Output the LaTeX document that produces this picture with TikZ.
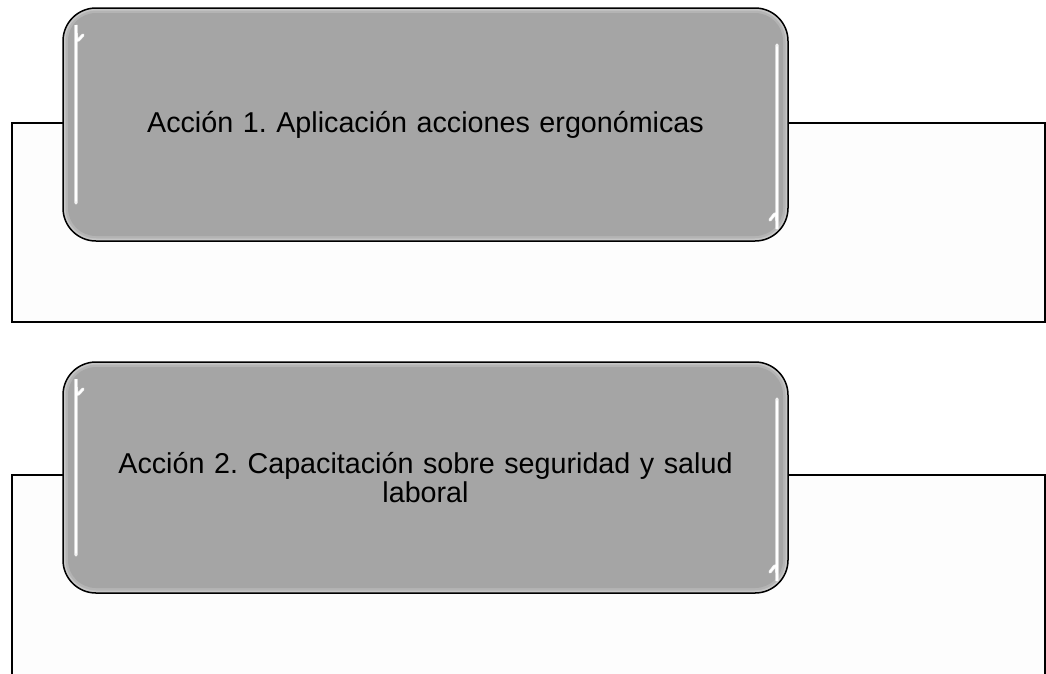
\documentclass[tikz,border=0pt]{standalone}
\usepackage{fontspec}
\setmainfont{Liberation Sans}
\frenchspacing
\definecolor{boxwhite}{HTML}{FDFDFD}
\definecolor{glossrim}{HTML}{C6C6C6}
\definecolor{glossmid}{HTML}{B4B4B4}
\definecolor{glossgray}{HTML}{A5A5A5}
\begin{document}
\begin{tikzpicture}[x=1pt,y=-1pt,
  backbox/.style={draw=black, line width=1.3pt, fill=boxwhite, rectangle, inner sep=0pt},
  gloss/.style={draw=black, line width=1.5pt, fill=glossrim, rounded corners=33pt,
    inner sep=0pt, minimum width=725pt, align=center, text width=650pt,
    font=\fontsize{28.7}{28.5}\selectfont,
    path picture={
      \fill[glossmid, rounded corners=31pt]
        ([shift={(2.5pt,-2.5pt)}]path picture bounding box.north west) rectangle
        ([shift={(-2.5pt,2.5pt)}]path picture bounding box.south east);
      \fill[glossgray, rounded corners=28pt]
        ([shift={(5pt,-5pt)}]path picture bounding box.north west) rectangle
        ([shift={(-5pt,5pt)}]path picture bounding box.south east);
      \draw[white!85!glossgray, line width=3.2pt, line cap=round]
        ([shift={(13pt,38pt)}]path picture bounding box.south west) --
        ([shift={(13pt,-50pt)}]path picture bounding box.north west) ..
        controls ([shift={(13pt,-39pt)}]path picture bounding box.north west) and
                 ([shift={(15pt,-32pt)}]path picture bounding box.north west) ..
        ([shift={(20pt,-27pt)}]path picture bounding box.north west);
      \draw[white, line width=1.6pt, line cap=round]
        ([shift={(13pt,40pt)}]path picture bounding box.south west) --
        ([shift={(13pt,-50pt)}]path picture bounding box.north west) ..
        controls ([shift={(13pt,-39pt)}]path picture bounding box.north west) and
                 ([shift={(15pt,-32pt)}]path picture bounding box.north west) ..
        ([shift={(20pt,-27pt)}]path picture bounding box.north west);
      \draw[white!85!glossgray, line width=3.2pt, line cap=round]
        ([shift={(-11pt,-37pt)}]path picture bounding box.north east) --
        ([shift={(-11pt,45pt)}]path picture bounding box.south east) ..
        controls ([shift={(-11pt,34pt)}]path picture bounding box.south east) and
                 ([shift={(-13pt,27pt)}]path picture bounding box.south east) ..
        ([shift={(-18pt,21pt)}]path picture bounding box.south east);
      \draw[white, line width=1.6pt, line cap=round]
        ([shift={(-11pt,-39pt)}]path picture bounding box.north east) --
        ([shift={(-11pt,45pt)}]path picture bounding box.south east) ..
        controls ([shift={(-11pt,34pt)}]path picture bounding box.south east) and
                 ([shift={(-13pt,27pt)}]path picture bounding box.south east) ..
        ([shift={(-18pt,21pt)}]path picture bounding box.south east);
    }},
]
\useasboundingbox (0,0) rectangle (1046,673);
\clip (0,0) rectangle (1046,673);
\fill[white] (0,0) rectangle (1046,673);

\node[backbox, minimum width=1033pt, minimum height=199pt] (b1) at (528.5,222.5) {};
\node[gloss, minimum height=233pt] (g1) at (425.5,124.5) {Acción 1. Aplicación acciones ergonómicas};

\node[backbox, minimum width=1033pt, minimum height=250pt] (b2) at (528.5,600) {};
\node[gloss, minimum height=231pt] (g2) at (425.5,477.5) {Acción 2. Capacitación sobre seguridad y salud\\laboral};
\end{tikzpicture}
\end{document}
